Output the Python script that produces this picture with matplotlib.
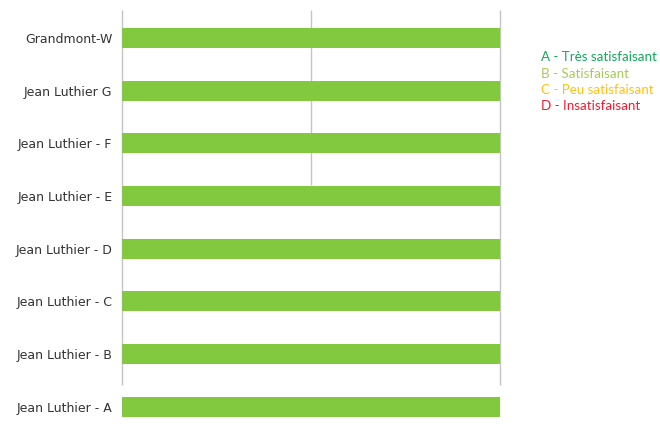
import matplotlib
matplotlib.use('Agg')
import matplotlib.pyplot as plt
import numpy as np

# categories bottom -> top
sites = ['Jean Luthier - A', 'Jean Luthier - B', 'Jean Luthier - C', 'Jean Luthier - D',
         'Jean Luthier - E', 'Jean Luthier - F', 'Jean Luthier G', 'Grandmont-W']
# share of "A - Très satisfaisant" (%)
pct_a = [100, 100, 100, 100, 100, 100, 100, 100]

legend_labels = ['A - Très satisfaisant', 'B - Satisfaisant', 'C - Peu satisfaisant', 'D - Insatisfaisant']
legend_colors = ['#12a85a', '#a9c95a', '#ffc20e', '#f01b30']

fig = plt.figure(figsize=(6.6, 4.45), dpi=100)
W, H = 660, 445
ax = fig.add_axes([122 / W, 1 - 440 / H, (500 - 122) / W, 430 / H])

y = np.arange(len(sites))
ax.barh(y, pct_a, height=0.38, color='#82c93f', zorder=2)

ax.set_xlim(0, 100)
ax.set_ylim(-0.63, 7.53)

# grid lines (the original only draws them part of the way down)
ax.vlines([0, 100], 0.42, 7.53, color='#c4c4c4', lw=1, zorder=1, clip_on=False)
ax.vlines([50], 4.21, 7.53, color='#c4c4c4', lw=1, zorder=1)

for s in ax.spines.values():
    s.set_visible(False)
ax.set_xticks([])
ax.set_yticks(y)
ax.set_yticklabels(sites, fontsize=9, color='#333333')
ax.tick_params(axis='y', length=0, pad=7)

for i, (lab, col) in enumerate(zip(legend_labels, legend_colors)):
    fig.text(541 / W, 1 - (57 + i * 16.5) / H, lab, color=col, fontsize=9.6,
             family='Lato', va='center', ha='left')

fig.savefig('out.png', dpi=100)
